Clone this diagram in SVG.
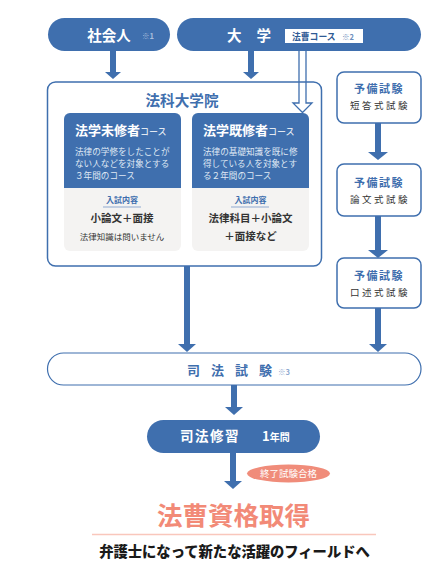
<svg xmlns="http://www.w3.org/2000/svg" width="439" height="571" viewBox="0 0 439 571">
<style>
text{font-family:"Noto Sans CJK JP","Noto Sans",sans-serif}
.b{fill:#3f6fae}
.sb{fill:none;stroke:#3f6fae;stroke-width:1.5}
.w{fill:#fff}
.t{fill:#3f6fae;font-weight:700}
.d{fill:#333}
.desc{fill:#dfe8f4;font-size:8.6px}
</style>
<rect width="439" height="571" fill="#fff"/>

<g id="connectors">
  <path class="b" d="M110,51h6v21h5l-8,7l-8,-7h5z"/>
  <path class="b" d="M248,51h6v21h5l-8,7l-8,-7h5z"/>
  <path d="M299,43V103h-6l9.5,9.5l9.5,-9.5h-6V43" fill="#fff" stroke="#3f6fae" stroke-width="1.3"/>
  <path class="b" d="M184,266h6v78h6l-9,8l-9,-8h6z"/>
  <path class="b" d="M375,123h6v29h7l-10,8l-10,-8h7z"/>
  <path class="b" d="M375,216h6v34h7l-10,8l-10,-8h7z"/>
  <path class="b" d="M375,308h6v36h6l-9,8l-9,-8h6z"/>
  <path class="b" d="M231,385h6v22h6l-9,8l-9,-8h6z"/>
  <path class="b" d="M230,453h6v28h6l-9,8l-9,-8h6z"/>
</g>

<g id="shakaijin">
  <rect x="48" y="18" width="122" height="33" rx="16.5" class="b"/>
  <text x="109" y="40.5" font-size="14.5" font-weight="700" class="w" text-anchor="middle">社会人</text>
  <text x="142" y="39" font-size="7.5" font-weight="700" fill="#a9bedc">※1</text>
</g>

<g id="daigaku">
  <rect x="177" y="18" width="244" height="33" rx="16.5" class="b"/>
  <text x="227" y="40.5" font-size="14.5" font-weight="700" class="w" letter-spacing="15">大学</text>
  <rect x="285" y="29" width="78" height="14" fill="#fff"/>
  <text x="292" y="39.5" font-size="8.8" font-weight="700" fill="#2f5a94">法曹コース</text>
  <text x="342" y="39.5" font-size="7.5" font-weight="700" fill="#6f8fbd">※2</text>
</g>

<g id="houka-daigakuin">
  <rect x="47.5" y="82" width="274" height="184" rx="8" class="sb"/>
  <text x="182" y="106" font-size="14.6" class="t" text-anchor="middle">法科大学院</text>
</g>

<g id="mishu-course">
  <rect x="64" y="113" width="117" height="138" rx="6" fill="#f4f3f2"/>
  <path d="M70,113h105a6,6 0 0 1 6,6v69h-117v-69a6,6 0 0 1 6,-6z" class="b"/>
  <text x="75" y="135" class="w" font-weight="700"><tspan font-size="13">法学未修者</tspan><tspan font-size="9" font-weight="400">コース</tspan></text>
  <text x="75" y="155" class="desc">法律の学修をしたことが</text>
  <text x="75" y="167" class="desc">ない人などを対象とする</text>
  <text x="75" y="178.5" class="desc">３年間のコース</text>
  <text x="122" y="203" font-size="8" class="t" text-anchor="middle">入試内容</text>
  <line x1="103" y1="207" x2="141" y2="207" stroke="#8fa9d0" stroke-width="1"/>
  <text x="122" y="222" font-size="10.5" font-weight="700" class="d" text-anchor="middle">小論文＋面接</text>
  <text x="122" y="239.5" font-size="8.5" class="d" text-anchor="middle">法律知識は問いません</text>
</g>

<g id="kishu-course">
  <rect x="192" y="113" width="117" height="138" rx="6" fill="#f4f3f2"/>
  <path d="M198,113h105a6,6 0 0 1 6,6v69h-117v-69a6,6 0 0 1 6,-6z" class="b"/>
  <text x="203" y="135" class="w" font-weight="700"><tspan font-size="13">法学既修者</tspan><tspan font-size="9" font-weight="400">コース</tspan></text>
  <text x="203" y="155" class="desc">法律の基礎知識を既に修</text>
  <text x="203" y="167" class="desc">得している人を対象とす</text>
  <text x="203" y="178.5" class="desc">る２年間のコース</text>
  <text x="250.5" y="203" font-size="8" class="t" text-anchor="middle">入試内容</text>
  <line x1="231" y1="207" x2="269" y2="207" stroke="#8fa9d0" stroke-width="1"/>
  <text x="250.5" y="222" font-size="10.5" font-weight="700" class="d" text-anchor="middle">法律科目＋小論文</text>
  <text x="250.5" y="240" font-size="10.5" font-weight="700" class="d" text-anchor="middle">＋面接など</text>
</g>

<g id="yobi-1">
  <rect x="337" y="72" width="84" height="51" rx="7" fill="#fff" class="sb"/>
  <text x="379" y="93" font-size="11" class="t" text-anchor="middle" letter-spacing="1.5">予備試験</text>
  <text x="380" y="108.5" font-size="9.5" class="d" text-anchor="middle" letter-spacing="2.5">短答式試験</text>
</g>
<g id="yobi-2">
  <rect x="337" y="164" width="84" height="52" rx="7" fill="#fff" class="sb"/>
  <text x="379" y="187" font-size="11" class="t" text-anchor="middle" letter-spacing="1.5">予備試験</text>
  <text x="380" y="202.5" font-size="9.5" class="d" text-anchor="middle" letter-spacing="2.5">論文式試験</text>
</g>
<g id="yobi-3">
  <rect x="337" y="258" width="84" height="50" rx="7" fill="#fff" class="sb"/>
  <text x="379" y="280" font-size="11" class="t" text-anchor="middle" letter-spacing="1.5">予備試験</text>
  <text x="380" y="295.5" font-size="9.5" class="d" text-anchor="middle" letter-spacing="2.5">口述式試験</text>
</g>

<g id="shihou-shiken">
  <rect x="47.5" y="353" width="373.5" height="32" rx="16" fill="#fff" stroke="#3f6fae" stroke-width="1.2"/>
  <text x="187" y="375" font-size="13" class="t"><tspan letter-spacing="11">司法試</tspan><tspan>験</tspan><tspan dx="6" font-size="7.5" fill="#8fa9d0">※3</tspan></text>
</g>

<g id="shihou-shushu">
  <rect x="147" y="420" width="173" height="33" rx="16.5" class="b"/>
  <text x="180" y="441" font-size="13.5" font-weight="700" class="w" letter-spacing="1.5">司法修習</text>
  <text x="262" y="441" class="w" font-weight="700"><tspan font-size="13">1</tspan><tspan font-size="10">年間</tspan></text>
</g>

<g id="shuryo">
  <ellipse cx="288.5" cy="473.5" rx="41.5" ry="9" fill="#f08c7a"/>
  <text x="288.5" y="477" font-size="9.5" class="w" text-anchor="middle">終了試験合格</text>
</g>

<g id="result">
  <text x="233.5" y="525" font-size="25.5" font-weight="700" fill="#f28a77" text-anchor="middle">法曹資格取得</text>
  <line x1="92" y1="534.5" x2="376" y2="534.5" stroke="#f9c7bc" stroke-width="1.5"/>
  <text x="234.5" y="557" font-size="14.3" font-weight="900" fill="#1a1a1a" text-anchor="middle">弁護士になって新たな活躍のフィールドへ</text>
</g>
</svg>
